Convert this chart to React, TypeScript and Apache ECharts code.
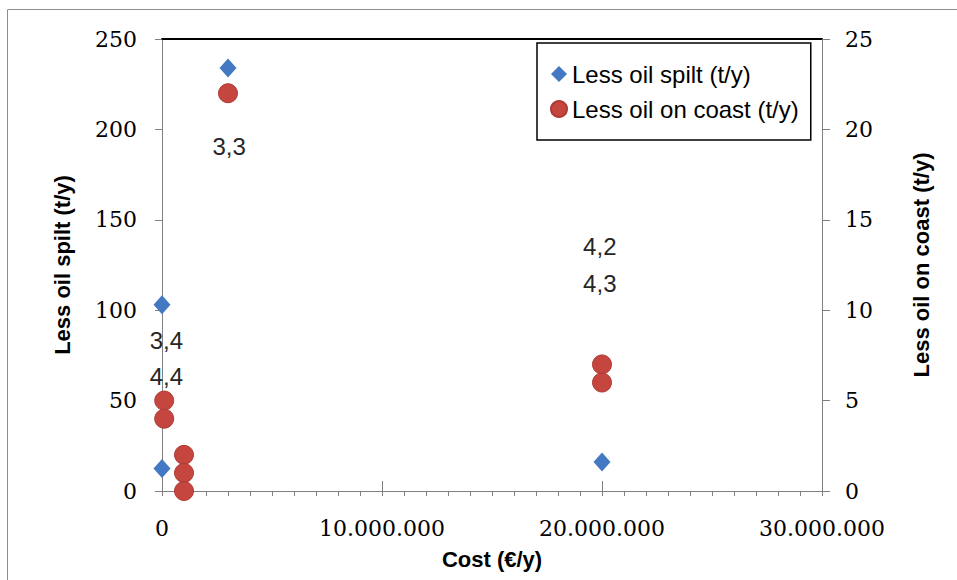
import React, { useEffect, useRef } from "react";
import * as echarts from "echarts";

// Less oil spilt (left axis)
const spiltCost = [0, 3000000, 0, 20000000];
const spiltValue = [103, 234, 12.5, 16];

// Less oil on coast (right axis)
const coastCost = [3000000, 100000, 100000, 1000000, 1000000, 1000000, 20000000, 20000000];
const coastValue = [22, 5, 4, 2, 1, 0, 7, 6];

// point annotations (placed on left-axis scale)
const noteText = ["3,3", "3,4", "4,4", "4,2", "4,3"];
const noteCost = [3050000, 200000, 200000, 19900000, 19900000];
const noteLevel = [190.5, 83.5, 63.3, 135.5, 114.8];

const spiltName = "Less oil spilt (t/y)";
const coastName = "Less oil on coast (t/y)";

const AXIS_GRAY = "#808080";
const TICK_FONT = "DejaVu Serif";
const SANS = "Liberation Sans";

function fmtDots(v: number): string {
  return String(Math.round(v)).replace(/\B(?=(\d{3})+(?!\d))/g, ".");
}

export default function App() {
  const ref = useRef<HTMLDivElement>(null);
  useEffect(() => {
    if (!ref.current) return;
    const chart = echarts.init(ref.current, null, { renderer: "svg" });
    const xBase = {
      type: "value",
      min: 0,
      max: 30000000,
      interval: 10000000,
      splitLine: { show: false },
    };
    chart.setOption({
      animation: false,
      backgroundColor: "#ffffff",
      grid: { left: 162, right: 135, top: 39, bottom: 89, containLabel: false },
      graphic: [
        {
          type: "rect",
          silent: true,
          shape: { x: 7.5, y: 9.5, width: 990, height: 620 },
          style: { fill: "none", stroke: "#8e8e8e", lineWidth: 1 },
        },
      ],
      legend: {
        data: [
          { name: spiltName, icon: "diamond" },
          { name: coastName, icon: "circle" },
        ],
        orient: "vertical",
        left: 537,
        top: 43,
        padding: [19, 12, 19, 13],
        itemGap: 11,
        itemWidth: 16,
        itemHeight: 16,
        selectedMode: false,
        backgroundColor: "#ffffff",
        borderColor: "#000000",
        borderWidth: 1.5,
        textStyle: { fontFamily: SANS, fontSize: 24, color: "#000", lineHeight: 24 },
      },
      xAxis: [
        {
          ...xBase,
          position: "bottom",
          axisLine: { show: true, onZero: false, lineStyle: { color: AXIS_GRAY, width: 1 } },
          axisTick: { show: true, length: 5, lineStyle: { color: AXIS_GRAY } },
          minorTick: { show: true, splitNumber: 10, length: 5, lineStyle: { color: AXIS_GRAY, width: 1 } },
          minorSplitLine: { show: false },
          axisLabel: {
            margin: 26,
            fontFamily: TICK_FONT,
            fontSize: 22,
            color: "#000",
            formatter: (v: number) => fmtDots(v),
          },
          name: "Cost (€/y)",
          nameLocation: "middle",
          nameGap: 57,
          nameTextStyle: { fontFamily: SANS, fontWeight: "bold", fontSize: 22, color: "#000" },
        },
        {
          ...xBase,
          position: "bottom",
          axisLine: { show: false, onZero: false },
          axisTick: { show: true, inside: true, length: 10, lineStyle: { color: AXIS_GRAY } },
          axisLabel: { show: false },
        },
        {
          ...xBase,
          position: "top",
          axisLine: { show: true, onZero: false, lineStyle: { color: "#000", width: 2 } },
          axisTick: { show: false },
          axisLabel: { show: false },
        },
      ],
      yAxis: [
        {
          type: "value",
          min: 0,
          max: 250,
          interval: 50,
          position: "left",
          splitLine: { show: false },
          axisLine: { show: true, onZero: false, lineStyle: { color: AXIS_GRAY } },
          axisTick: { show: true, length: 7, lineStyle: { color: AXIS_GRAY } },
          axisLabel: { margin: 25, fontFamily: TICK_FONT, fontSize: 22, color: "#000" },
          name: spiltName,
          nameLocation: "middle",
          nameGap: 89,
          nameTextStyle: { fontFamily: SANS, fontWeight: "bold", fontSize: 22, color: "#000" },
        },
        {
          type: "value",
          min: 0,
          max: 25,
          interval: 5,
          position: "right",
          splitLine: { show: false },
          axisLine: { show: true, onZero: false, lineStyle: { color: AXIS_GRAY } },
          axisTick: { show: true, length: 8, lineStyle: { color: AXIS_GRAY } },
          axisLabel: { margin: 23, fontFamily: TICK_FONT, fontSize: 22, color: "#000" },
          name: coastName,
          nameLocation: "middle",
          nameGap: 88,
          nameTextStyle: { fontFamily: SANS, fontWeight: "bold", fontSize: 22, color: "#000" },
        },
      ],
      series: [
        {
          name: "notes",
          type: "scatter",
          xAxisIndex: 0,
          yAxisIndex: 0,
          symbolSize: 0,
          silent: true,
          itemStyle: { opacity: 1 },
          label: {
            show: true,
            position: "inside",
            formatter: "{b}",
            fontFamily: SANS,
            fontSize: 24,
            color: "#262626",
          },
          data: noteText.map((t, i) => ({ name: t, value: [noteCost[i], noteLevel[i]] })),
        },
        {
          name: spiltName,
          type: "scatter",
          xAxisIndex: 0,
          yAxisIndex: 0,
          symbol: "diamond",
          symbolSize: [17, 19],
          itemStyle: { color: "#4279C2", opacity: 1 },
          data: spiltCost.map((c, i) => [c, spiltValue[i]]),
        },
        {
          name: coastName,
          type: "scatter",
          xAxisIndex: 0,
          yAxisIndex: 1,
          symbol: "circle",
          symbolSize: 19,
          itemStyle: { color: "#C4463F", borderColor: "#B03B35", borderWidth: 1, opacity: 1 },
          data: coastCost.map((c, i) => [c, coastValue[i]]),
        },
      ],
    });
    return () => chart.dispose();
  }, []);
  return (
    <div
      ref={ref}
      style={{ position: "fixed", left: 0, top: 0, width: 957, height: 580, background: "#fff" }}
    />
  );
}
